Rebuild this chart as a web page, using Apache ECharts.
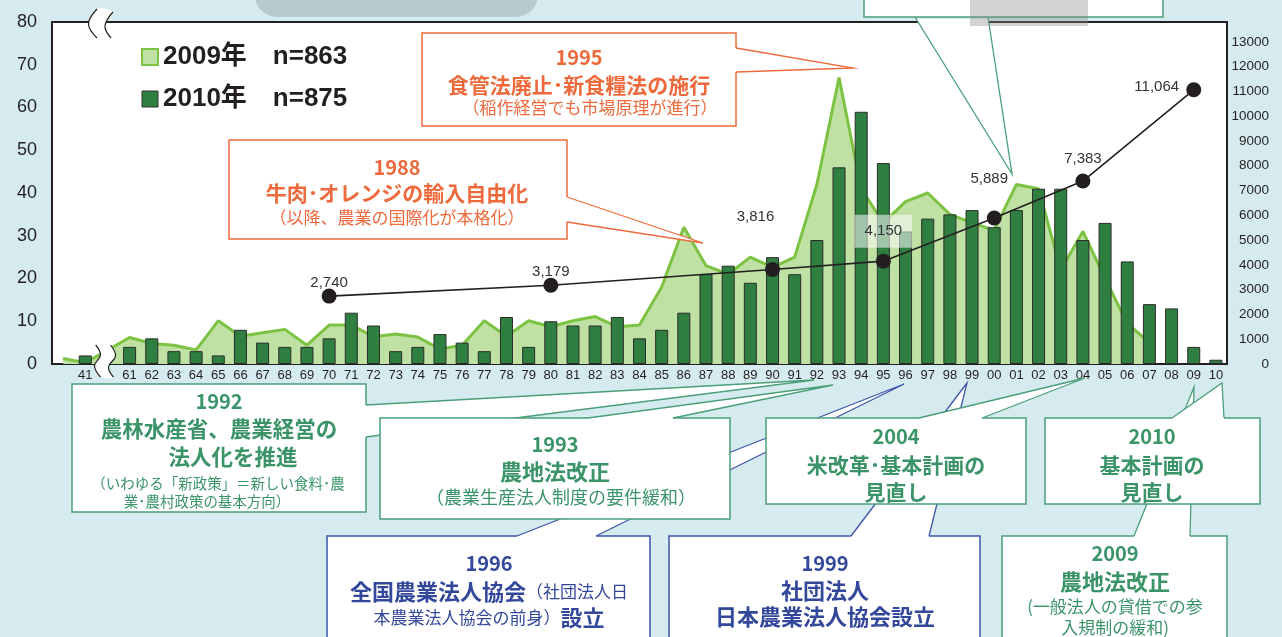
<!DOCTYPE html>
<html>
<head>
<meta charset="utf-8">
<script src="https://cdn.jsdelivr.net/npm/echarts/dist/echarts.min.js"></script>
<style>
  body { margin: 0; background: #d5ebf0; }
  #main { width: 1282px; height: 637px; }
</style>
</head>
<body>
<div id="main"></div>
<script>
// 設立年（西暦下2桁）、'' は空き、41 と 61 の間は省略
const categories = ['', '41', '',
  '61', '62', '63', '64', '65', '66', '67', '68', '69',
  '70', '71', '72', '73', '74', '75', '76', '77', '78', '79',
  '80', '81', '82', '83', '84', '85', '86', '87', '88', '89',
  '90', '91', '92', '93', '94', '95', '96', '97', '98', '99',
  '00', '01', '02', '03', '04', '05', '06', '07', '08', '09', '10'];

// 2009年調査（n=863）
const count2009 = [1.3, 0.3, null,
  6.2, 4.8, 4.4, 3.3, 10.1, 6.5, 7.3, 8.1, 4.4,
  9.1, 9.1, 6.4, 7.0, 6.3, 3.5, 4.4, 10.1, 6.5, 10.1,
  8.7, 10.1, 11.1, 8.7, 9.1, 18, 32, 23, 21, 25,
  22.6, 25, 42, 67, 41, 33, 38, 40, 35, 33,
  31.3, 42, 41, 22, 31, 20, 9.5, 5, null, null, null];

// 2010年調査（n=875）
const count2010 = [null, 2, null,
  4, 6, 3, 3, 2, 8, 5, 4, 4,
  6, 12, 9, 3, 4, 7, 5, 3, 11, 4,
  10, 9, 9, 11, 6, 8, 12, 21, 23, 19,
  25, 21, 29, 46, 59, 47, 31, 34, 35, 36,
  32, 36, 41, 41, 29, 33, 24, 14, 13, 4, 1];

// 農業生産法人数（右軸）
const farmYears = ['70', '80', '90', '95', '00', '04', '09'];
const farmCounts = [2740, 3179, 3816, 4150, 5889, 7383, 11064];

const name2009 = '2009年　n=863';
const name2010 = '2010年　n=875';

// ラベル位置（点からのずれ）
const farmLabelOffset = [[0, -13], [0, -13], [-17, -53], [0, -30], [-5, -39], [0, -22], [-37, -3]];
const farmLabelBox = [false, false, true, true, false, false, false];

const JP = '"Noto Sans CJK JP", sans-serif';
const ORANGE = '#ee6a3c';
const GREEN = '#3b9468';
const GREEN_LINE = '#4a9f78';
const BLUE = '#34489b';
const BLUE_LINE = '#3d55a8';

const farmData = categories.map(function (c) {
    const i = farmYears.indexOf(c);
    if (i < 0) return null;
    const lab = { offset: farmLabelOffset[i] };
    if (farmLabelBox[i]) {
        lab.backgroundColor = 'rgba(255,255,255,0.55)';
        lab.padding = [9, 10];
    }
    return { value: farmCounts[i], label: lab };
});

// 吹き出し用
function box(x, y, w, h, stroke) {
    return { type: 'rect', z: 100, shape: { x: x, y: y, width: w, height: h },
        style: { fill: '#fff', stroke: stroke, lineWidth: 1.5 } };
}
function txt(x, y, text, size, color, bold) {
    return { type: 'text', z: 100, x: x, y: y,
        style: { text: text, fill: color, fontSize: size, fontWeight: bold ? 'bold' : 'normal',
            fontFamily: JP, align: 'center', verticalAlign: 'middle' } };
}
function richTxt(x, y, text, color) {
    return { type: 'text', z: 100, x: x, y: y,
        style: { text: text, fill: color, align: 'center', verticalAlign: 'middle',
            rich: {
                b: { fontSize: 22, fontWeight: 'bold', fontFamily: JP, fill: color },
                n: { fontSize: 17, fontFamily: JP, fill: color }
            } } };
}
function pointer(b1, b2, tip, stroke, edge) {
    let pts;
    if (edge === 'top') {
        pts = [[b1[0], b1[1] + 2], b1, tip, b2, [b2[0], b2[1] + 2]];
    } else {
        pts = [[b1[0] - 2, b1[1]], b1, tip, b2, [b2[0] - 2, b2[1]]];
    }
    return [
        { type: 'polygon', z: 100, shape: { points: pts }, style: { fill: '#fff' } },
        { type: 'polyline', z: 100, shape: { points: [b1, tip, b2] },
            style: { stroke: stroke, lineWidth: 1.3, fill: null } }
    ];
}
function breakMark(left, right) {
    const fillPts = left.concat(right.slice().reverse());
    return [
        { type: 'polygon', z: 100, shape: { points: fillPts, smooth: 0.3 }, style: { fill: '#fff' } },
        { type: 'polyline', z: 100, shape: { points: left, smooth: 0.4 },
            style: { stroke: '#231f20', lineWidth: 1.2, fill: null } },
        { type: 'polyline', z: 100, shape: { points: right, smooth: 0.4 },
            style: { stroke: '#231f20', lineWidth: 1.2, fill: null } }
    ];
}

let graphics = [];
// 上部の飾り
graphics.push({ type: 'rect', z: 100, shape: { x: 255, y: -30, width: 283, height: 47, r: 22 },
    style: { fill: '#b7cacf' } });
graphics.push(box(864, -10, 299, 27, GREEN_LINE));
graphics = graphics.concat(pointer([915, 17], [988, 17], [1012, 174], GREEN_LINE, 'top'));
graphics.push({ type: 'rect', z: 100, shape: { x: 970, y: 0, width: 118, height: 26 },
    style: { fill: 'rgba(140,140,140,0.38)' } });

// 1995
graphics.push(box(422, 33, 314, 93, ORANGE));
graphics = graphics.concat(pointer([736, 48], [736, 72], [853, 68], ORANGE, 'right'));
graphics.push(txt(579, 57, '1995', 20, ORANGE, true));
graphics.push(txt(579, 85, '食管法廃止･新食糧法の施行', 21, ORANGE, true));
graphics.push(txt(590, 108, '（稲作経営でも市場原理が進行）', 17, ORANGE, false));

// 1988
graphics.push(box(229, 140, 338, 99, ORANGE));
graphics = graphics.concat(pointer([567, 197], [567, 222], [703, 243], ORANGE, 'right'));
graphics.push(txt(397, 167, '1988', 20, ORANGE, true));
graphics.push(txt(397, 193, '牛肉･オレンジの輸入自由化', 21, ORANGE, true));
graphics.push(txt(397, 218, '（以降、農業の国際化が本格化）', 17, ORANGE, false));

// 1996
graphics.push(box(327, 536, 323, 130, BLUE_LINE));
graphics = graphics.concat(pointer([517, 536], [596, 536], [904, 384], BLUE_LINE, 'top'));
graphics.push(txt(489, 563, '1996', 20, BLUE, true));
graphics.push(richTxt(489, 592, '{b|全国農業法人協会}{n|（社団法人日}', BLUE));
graphics.push(richTxt(489, 618, '{n|本農業法人協会の前身）}{b|設立}', BLUE));

// 1999
graphics.push(box(669, 536, 311, 130, BLUE_LINE));
graphics = graphics.concat(pointer([851, 536], [929, 536], [967, 383], BLUE_LINE, 'top'));
graphics.push(txt(825, 563, '1999', 20, BLUE, true));
graphics.push(txt(825, 591, '社団法人', 22, BLUE, true));
graphics.push(txt(825, 617, '日本農業法人協会設立', 22, BLUE, true));

// 2009
graphics.push(box(1002, 536, 225, 130, GREEN_LINE));
graphics = graphics.concat(pointer([1134, 536], [1190, 536], [1194, 387], GREEN_LINE, 'top'));
graphics.push(txt(1115, 553, '2009', 20, GREEN, true));
graphics.push(txt(1115, 582, '農地法改正', 22, GREEN, true));
graphics.push(txt(1115, 607, '(一般法人の貸借での参', 17, GREEN, false));
graphics.push(txt(1115, 628, '入規制の緩和)', 17, GREEN, false));

// 1992
graphics.push(box(72, 384, 294, 128, GREEN_LINE));
graphics = graphics.concat(pointer([366, 405], [366, 437], [814, 380], GREEN_LINE, 'right'));
graphics.push(txt(219, 401, '1992', 20, GREEN, true));
graphics.push(txt(219, 429, '農林水産省、農業経営の', 21.5, GREEN, true));
graphics.push(txt(233, 457, '法人化を推進', 21.5, GREEN, true));
graphics.push(txt(218, 483, '（いわゆる「新政策」＝新しい食料･農', 14.5, GREEN, false));
graphics.push(txt(207, 501, '業･農村政策の基本方向）', 14.5, GREEN, false));

// 1993
graphics.push(box(380, 418, 350, 101, GREEN_LINE));
graphics = graphics.concat(pointer([588, 418], [673, 418], [833, 385], GREEN_LINE, 'top'));
graphics.push(txt(555, 444, '1993', 20, GREEN, true));
graphics.push(txt(555, 472, '農地法改正', 22, GREEN, true));
graphics.push(txt(561, 497, '（農業生産法人制度の要件緩和）', 18, GREEN, false));

// 2004
graphics.push(box(766, 418, 260, 86, GREEN_LINE));
graphics = graphics.concat(pointer([919, 418], [982, 418], [1085, 378], GREEN_LINE, 'top'));
graphics.push(txt(896, 436, '2004', 20, GREEN, true));
graphics.push(txt(896, 465, '米改革･基本計画の', 21, GREEN, true));
graphics.push(txt(896, 492, '見直し', 21, GREEN, true));

// 2010
graphics.push(box(1045, 418, 215, 86, GREEN_LINE));
graphics = graphics.concat(pointer([1172, 418], [1224, 418], [1222, 383], GREEN_LINE, 'top'));
graphics.push(txt(1152, 436, '2010', 20, GREEN, true));
graphics.push(txt(1152, 465, '基本計画の', 21, GREEN, true));
graphics.push(txt(1152, 492, '見直し', 21, GREEN, true));

// 省略記号
graphics = graphics.concat(breakMark(
    [[95.7, 345], [100.5, 355], [94.5, 366], [100.5, 377]],
    [[110.5, 345], [115.5, 356], [108.5, 367], [113.5, 377]]));
graphics = graphics.concat(breakMark(
    [[97, 9], [88.5, 24], [97, 38]],
    [[113, 12], [105, 26], [111, 38]]));

const chart = echarts.init(document.getElementById('main'));
chart.setOption({
    animation: false,
    backgroundColor: '#d5ebf0',
    grid: { left: 52, right: 55, top: 22, bottom: 273, show: true,
        backgroundColor: '#fff', borderColor: '#231f20', borderWidth: 2 },
    legend: {
        left: 141, top: 43, orient: 'vertical', padding: 0,
        itemWidth: 16, itemHeight: 16, itemGap: 14, icon: 'rect',
        selectedMode: false,
        textStyle: { fontSize: 26, fontWeight: 'bold', color: '#231f20', lineHeight: 28,
            fontFamily: '"Liberation Sans", "Noto Sans CJK JP", sans-serif' },
        data: [
            { name: name2009, itemStyle: { color: '#bfe1a4', borderColor: '#7cc243', borderWidth: 2 } },
            { name: name2010, itemStyle: { color: '#2f7f40', borderColor: '#333', borderWidth: 1 } }
        ]
    },
    xAxis: {
        type: 'category',
        data: categories,
        axisLine: { lineStyle: { color: '#231f20', width: 2 } },
        axisTick: { show: false },
        axisLabel: { interval: 0, fontSize: 13, margin: 5, color: '#231f20',
            fontFamily: '"Liberation Sans Narrow", "Liberation Sans", sans-serif' }
    },
    yAxis: [
        {
            type: 'value', min: 0, max: 80, interval: 10, position: 'left',
            axisLine: { show: true, lineStyle: { color: '#231f20', width: 2 } },
            axisTick: { show: false },
            splitLine: { show: false },
            axisLabel: { fontSize: 18, margin: 15, color: '#231f20', fontFamily: '"Liberation Sans", sans-serif' }
        },
        {
            type: 'value', min: 0, max: 13800, interval: 1000, position: 'right',
            axisLine: { show: true, lineStyle: { color: '#231f20', width: 2 } },
            axisTick: { show: false },
            splitLine: { show: false },
            axisLabel: { fontSize: 13.5, margin: 42, align: 'right', showMaxLabel: false,
                color: '#231f20', fontFamily: '"Liberation Sans", sans-serif',
                formatter: function (v) { return String(v); } }
        }
    ],
    series: [
        {
            name: name2009, type: 'line', data: count2009, connectNulls: true,
            symbol: 'none', z: 1,
            lineStyle: { color: '#7cc243', width: 3 },
            itemStyle: { color: '#bfe1a4' },
            areaStyle: { color: '#bfe1a4', opacity: 1 }
        },
        {
            name: name2010, type: 'bar', data: count2010, barWidth: 13, z: 3,
            itemStyle: { color: '#2f7f40', borderColor: '#2b2b2b', borderWidth: 1 }
        },
        {
            name: '農業生産法人数', type: 'line', yAxisIndex: 1, data: farmData, connectNulls: true,
            symbol: 'circle', symbolSize: 15, z: 5,
            lineStyle: { color: '#231f20', width: 1.6 },
            itemStyle: { color: '#231f20' },
            label: { show: true, position: 'inside', fontSize: 15, color: '#333',
                fontFamily: '"Liberation Sans", sans-serif',
                formatter: function (p) { return Number(p.value).toLocaleString('en-US'); } }
        }
    ],
    graphic: graphics
});
</script>
</body>
</html>
